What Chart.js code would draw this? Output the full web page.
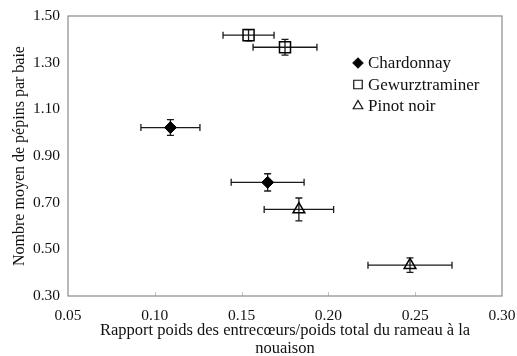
<!DOCTYPE html>
<html>
<head>
<meta charset="utf-8">
<script src="https://cdn.jsdelivr.net/npm/chart.js@4.4.0/dist/chart.umd.min.js"></script>
<style>
  html, body { margin: 0; padding: 0; background: #fff; }
  #wrap { width: 517px; height: 356px; position: relative; }
</style>
</head>
<body>
<div id="wrap"><canvas id="chart"></canvas></div>
<script>
// values
const grapes = ['Chardonnay', 'Gewurztraminer', 'Pinot noir'];

const chardX = [0.109, 0.165];
const chardY = [1.022, 0.787];
const chardXErr = [0.017, 0.021];
const chardYErr = [0.034, 0.037];

const gewX = [0.154, 0.175];
const gewY = [1.418, 1.366];
const gewXErr = [0.0147, 0.0184];
const gewYErr = [0.024, 0.034];

const pinotX = [0.183, 0.247];
const pinotY = [0.671, 0.432];
const pinotXErr = [0.020, 0.0242];
const pinotYErr = [0.049, 0.031];

const xTicks = [0.05, 0.10, 0.15, 0.20, 0.25, 0.30];
const yTicks = [0.30, 0.50, 0.70, 0.90, 1.10, 1.30, 1.50];

const xTitle = ['Rapport poids des entrecœurs/poids total du rameau à la', 'nouaison'];
const yTitle = 'Nombre moyen de pépins par baie';

const serif = '"Liberation Serif", "Times New Roman", serif';

const toPoints = (xs, ys) => xs.map((x, i) => ({ x: x, y: ys[i] }));

const errors = [
    { xErr: chardXErr, yErr: chardYErr },
    { xErr: gewXErr, yErr: gewYErr },
    { xErr: pinotXErr, yErr: pinotYErr }
];

// error bars, drawn under the markers
const errorBars = {
    id: 'errorBars',
    beforeDatasetsDraw(chart) {
        const ctx = chart.ctx;
        const xs = chart.scales.x, ys = chart.scales.y;
        ctx.save();
        ctx.strokeStyle = '#1a1a1a';
        ctx.lineWidth = 1.3;
        chart.data.datasets.forEach((ds, d) => {
            ds.data.forEach((p, i) => {
                const px = xs.getPixelForValue(p.x), py = ys.getPixelForValue(p.y);
                const x0 = xs.getPixelForValue(p.x - errors[d].xErr[i]);
                const x1 = xs.getPixelForValue(p.x + errors[d].xErr[i]);
                const y0 = ys.getPixelForValue(p.y - errors[d].yErr[i]);
                const y1 = ys.getPixelForValue(p.y + errors[d].yErr[i]);
                ctx.beginPath();
                ctx.moveTo(x0, py); ctx.lineTo(x1, py);
                ctx.moveTo(x0, py - 3.5); ctx.lineTo(x0, py + 3.5);
                ctx.moveTo(x1, py - 3.5); ctx.lineTo(x1, py + 3.5);
                ctx.moveTo(px, y0); ctx.lineTo(px, y1);
                ctx.moveTo(px - 3.5, y0); ctx.lineTo(px + 3.5, y0);
                ctx.moveTo(px - 3.5, y1); ctx.lineTo(px + 3.5, y1);
                ctx.stroke();
            });
        });
        ctx.restore();
    }
};

// plot frame, inward x ticks and the legend inside the plot
const frame = {
    id: 'frame',
    beforeDraw(chart) {
        const { ctx, chartArea: a } = chart;
        const xs = chart.scales.x;
        ctx.save();
        ctx.strokeStyle = '#c4c4c4';
        ctx.lineWidth = 1;
        xTicks.slice(1, -1).forEach(v => {
            const px = Math.round(xs.getPixelForValue(v)) + 0.5;
            ctx.beginPath();
            ctx.moveTo(px, a.bottom);
            ctx.lineTo(px, a.bottom - 4);
            ctx.stroke();
        });
        ctx.strokeStyle = '#8a8a8a';
        ctx.lineWidth = 1.2;
        ctx.strokeRect(a.left, a.top, a.right - a.left, a.bottom - a.top);
        ctx.restore();
    },
    afterDraw(chart) {
        const { ctx, chartArea: a } = chart;
        ctx.save();
        ctx.font = '17px ' + serif;
        ctx.textBaseline = 'middle';
        chart.data.datasets.forEach((ds, d) => {
            const mx = a.left + 290, my = a.top + 47 + d * 21.5;
            ctx.strokeStyle = '#111';
            ctx.fillStyle = ds.pointBackgroundColor;
            ctx.lineWidth = 1.2;
            Chart.helpers.drawPoint(ctx, {
                pointStyle: ds.pointStyle,
                radius: ds.pointStyle === 'rect' ? 6 : (ds.pointStyle === 'rectRot' ? 5 : 5.5),
                rotation: 0,
                borderWidth: 1.2
            }, mx, my);
            ctx.fillStyle = '#111';
            ctx.fillText(ds.label, mx + 10, my + 1);
        });
        ctx.restore();
    }
};

const ctx = document.getElementById('chart').getContext('2d');
new Chart(ctx, {
    type: 'scatter',
    data: {
        datasets: [
            {
                label: grapes[0],
                data: toPoints(chardX, chardY),
                pointStyle: 'rectRot',
                pointRadius: 6,
                pointBackgroundColor: '#000',
                pointBorderColor: '#000',
                pointBorderWidth: 1
            },
            {
                label: grapes[1],
                data: toPoints(gewX, gewY),
                pointStyle: 'rect',
                pointRadius: 7.8,
                pointBackgroundColor: 'rgba(0,0,0,0)',
                pointBorderColor: '#000',
                pointBorderWidth: 1.5
            },
            {
                label: grapes[2],
                data: toPoints(pinotX, pinotY),
                pointStyle: 'triangle',
                pointRadius: 6.8,
                pointBackgroundColor: 'rgba(0,0,0,0)',
                pointBorderColor: '#000',
                pointBorderWidth: 1.5
            }
        ]
    },
    options: {
        responsive: true,
        maintainAspectRatio: false,
        animation: false,
        layout: { padding: { top: 16, right: 15, left: 0, bottom: -2 } },
        plugins: {
            legend: { display: false },
            tooltip: { enabled: false }
        },
        scales: {
            x: {
                type: 'linear',
                min: 0.05,
                max: 0.30,
                afterBuildTicks: (scale) => { scale.ticks = xTicks.map(v => ({ value: v })); },
                afterFit: (scale) => {
                    scale.height = 62;
                    scale.paddingLeft = 0;
                    scale.paddingRight = 0;
                },
                grid: { display: false, drawTicks: false },
                border: { display: false },
                ticks: {
                    padding: 11,
                    color: '#111',
                    font: { family: serif, size: 15.5 },
                    maxRotation: 0,
                    callback: (v) => Number(v).toFixed(2)
                },
                title: {
                    display: true,
                    text: xTitle,
                    color: '#111',
                    font: { family: serif, size: 16.5, lineHeight: 1.1 },
                    padding: { top: 0, bottom: 0 }
                }
            },
            y: {
                type: 'linear',
                min: 0.30,
                max: 1.50,
                afterBuildTicks: (scale) => { scale.ticks = yTicks.map(v => ({ value: v })); },
                afterFit: (scale) => {
                    scale.width = 68;
                    scale.paddingTop = 0;
                    scale.paddingBottom = 0;
                },
                grid: { display: false, drawTicks: false },
                border: { display: false },
                ticks: {
                    padding: 8,
                    color: '#111',
                    font: { family: serif, size: 15.5 },
                    callback: (v) => Number(v).toFixed(2)
                },
                title: {
                    display: true,
                    text: yTitle,
                    color: '#111',
                    font: { family: serif, size: 16 },
                    padding: { top: 10, bottom: 0 }
                }
            }
        }
    },
    plugins: [errorBars, frame]
});
</script>
</body>
</html>
